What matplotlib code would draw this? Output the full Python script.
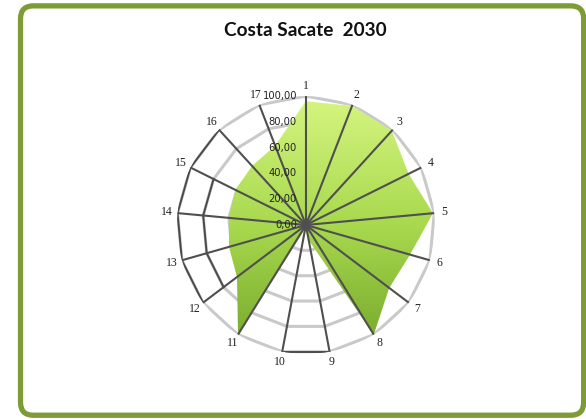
import numpy as np
import matplotlib.pyplot as plt
from matplotlib.patches import FancyBboxPatch
from matplotlib.image import BboxImage
from matplotlib.colors import LinearSegmentedColormap
from matplotlib.transforms import offset_copy

categorias = [str(i) for i in range(1, 18)]
valores = [96, 99, 99, 89, 99, 84, 81, 100, 12, 3, 100, 67, 62, 60, 61, 62, 66]
ticks_r = [0, 20, 40, 60, 80, 100]
rotulos_r = ["0,00", "20,00", "40,00", "60,00", "80,00", "100,00"]
titulo = "Costa Sacate  2030"

# trechos das grades que aparecem escuros na figura (anel, indice inicial)
trechos_escuros = [(100, 8), (100, 11), (100, 12), (100, 13), (100, 14),
                   (80, 11), (80, 12), (80, 13)]

n = len(categorias)
angulos = np.linspace(0, 2 * np.pi, n, endpoint=False)
ang_fech = np.append(angulos, angulos[0])
val_fech = np.append(valores, valores[0])

fig = plt.figure(figsize=(5.86, 4.19), dpi=100)
fig.patch.set_facecolor("white")

moldura = FancyBboxPatch(
    (0.035, 0.009), 0.961, 0.977,
    boxstyle="round,pad=0,rounding_size=0.022",
    mutation_aspect=586 / 419,
    transform=fig.transFigure,
    facecolor="white",
    edgecolor="#7e9c36",
    linewidth=3.8,
    zorder=-5,
)
fig.patches.append(moldura)

fig.text(0.521, 0.928, titulo, ha="center", va="center",
         fontsize=13.7, fontweight="bold", family="Lato", color="#111111")

ax = fig.add_axes([0.302, 0.155, 0.440, 0.616], projection="polar")
ax.set_theta_zero_location("N")
ax.set_theta_direction(-1)
ax.set_facecolor("none")
ax.spines["polar"].set_visible(False)
ax.set_ylim(0, 100)
ax.set_yticks([])

# aneis poligonais
for r in ticks_r[1:]:
    ax.plot(ang_fech, [r] * (n + 1), color="#c9c9c9", lw=2.2, zorder=1)
for r, i in trechos_escuros:
    ax.plot([angulos[i], angulos[(i + 1) % n]], [r, r],
            color="#4a4a4a", lw=1.4, zorder=1.5)

# area com gradiente
poligono = ax.fill(ang_fech, val_fech, facecolor="none", edgecolor="none", zorder=2)[0]
cores = LinearSegmentedColormap.from_list("verde", ["#d6f580", "#a8d94e", "#74a62a"])
img = BboxImage(ax.bbox, cmap=cores, zorder=2)
img.set_data(np.linspace(0, 1, 256).reshape(-1, 1))
img.set_clip_path(poligono)
ax.add_artist(img)

# eixos radiais
ax.set_xticks(angulos)
ax.set_xticklabels(categorias, fontsize=8.5, family="Liberation Serif", color="#222222")
ax.tick_params(axis="x", pad=-3)
ax.set_axisbelow(False)
ax.xaxis.grid(True, color="#4f4f4f", lw=1.5)
ax.yaxis.grid(False)

desloc = offset_copy(ax.transData, fig=fig, x=-9, y=0, units="dots")
for r, rot in zip(ticks_r, rotulos_r):
    ax.text(0, r, rot, transform=desloc, ha="right", va="center",
            fontsize=7.2, family="DejaVu Sans", color="#222222", zorder=4)

plt.savefig("out.png", dpi=100)
